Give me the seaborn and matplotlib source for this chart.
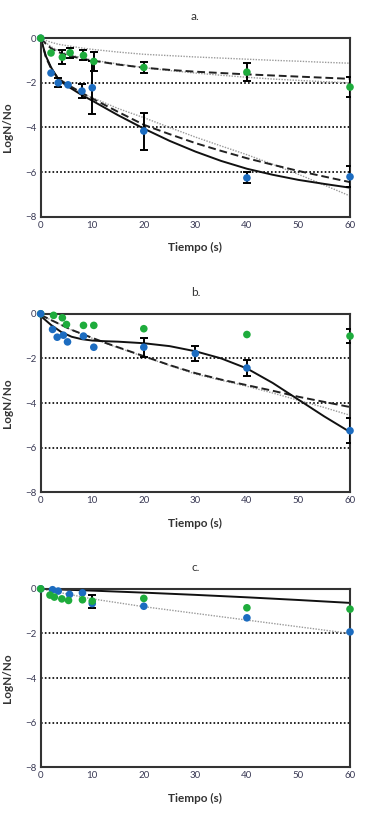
import numpy as np
import pandas as pd
import seaborn as sns
import matplotlib
matplotlib.use('Agg')
import matplotlib.pyplot as plt

# ---- panel a ----
a_blue_t = [0, 2, 3.4, 5.3, 8, 10, 20, 40, 60]
a_blue_y = [0, -1.56, -2.0, -2.09, -2.37, -2.22, -4.16, -6.26, -6.21]
a_blue_err = [0, 0, 0.2, 0, 0.33, 1.18, 0.83, 0.25, 0.48]
a_green_t = [0, 2, 4.2, 5.7, 8.3, 10.3, 20, 40, 60]
a_green_y = [0, -0.66, -0.85, -0.65, -0.77, -1.04, -1.31, -1.52, -2.19]
a_green_err = [0, 0, 0.3, 0.23, 0.22, 0.42, 0.26, 0.41, 0.45]

a_fit_t = [0, 1, 2, 3.4, 5, 8, 10, 15, 20, 25, 30, 35, 40, 45, 50, 55, 60]
a_blue_solid = [0, -0.8, -1.3, -1.85, -2.12, -2.55, -2.8, -3.45, -4.05, -4.6, -5.08, -5.5, -5.85, -6.12, -6.35, -6.53, -6.7]
a_blue_dash = [0, -0.85, -1.35, -1.8, -2.05, -2.45, -2.7, -3.3, -3.88, -4.3, -4.7, -5.05, -5.38, -5.67, -5.95, -6.2, -6.45]
a_blue_dot = [0, -0.8, -1.3, -1.8, -2.08, -2.48, -2.66, -3.15, -3.56, -4.0, -4.43, -4.83, -5.22, -5.65, -6.1, -6.58, -7.07]
a_green_dash = [0, -0.25, -0.45, -0.62, -0.75, -0.92, -1.0, -1.18, -1.32, -1.42, -1.5, -1.56, -1.62, -1.67, -1.72, -1.77, -1.82]
a_green_dot = [0, -0.2, -0.38, -0.55, -0.7, -0.88, -0.98, -1.15, -1.32, -1.45, -1.56, -1.66, -1.75, -1.83, -1.89, -1.95, -2.0]
a_green_dot2 = [0, -0.1, -0.18, -0.27, -0.33, -0.44, -0.5, -0.62, -0.72, -0.78, -0.84, -0.89, -0.94, -0.99, -1.03, -1.08, -1.12]

# ---- panel b ----
b_blue_t = [0, 2.3, 3.2, 4.4, 5.2, 8.3, 10.3, 20, 30, 40, 60]
b_blue_y = [0, -0.7, -1.05, -0.96, -1.26, -1.0, -1.5, -1.5, -1.78, -2.43, -5.24]
b_blue_err = [0, 0, 0, 0, 0, 0, 0, 0.42, 0.34, 0.34, 0.56]
b_green_t = [0, 2.5, 4.2, 5.0, 8.3, 10.3, 20, 40, 60]
b_green_y = [0, -0.07, -0.18, -0.48, -0.52, -0.52, -0.67, -0.93, -1.0]
b_green_err = [0, 0, 0, 0, 0, 0, 0, 0, 0.33]

b_fit_t = [0, 2, 4, 6, 8, 10, 12.5, 15, 20, 25, 30, 35, 40, 45, 50, 55, 60]
b_solid = [-0.1, -0.5, -0.82, -1.03, -1.14, -1.2, -1.23, -1.25, -1.32, -1.45, -1.68, -2.0, -2.45, -3.1, -3.85, -4.6, -5.3]
b_dash = [-0.05, -0.28, -0.5, -0.72, -0.9, -1.08, -1.3, -1.5, -1.9, -2.3, -2.66, -2.95, -3.2, -3.45, -3.72, -3.95, -4.18]
b_dot = [-0.05, -0.28, -0.5, -0.73, -0.92, -1.1, -1.32, -1.52, -1.92, -2.32, -2.7, -2.98, -3.25, -3.55, -3.88, -4.2, -4.55]

# ---- panel c ----
c_blue_t = [0, 2.3, 3.4, 5.6, 8.1, 10, 20, 40, 60]
c_blue_y = [0, -0.04, -0.1, -0.25, -0.18, -0.66, -0.78, -1.3, -1.93]
c_green_t = [0, 1.8, 2.65, 4.1, 5.4, 8.1, 10, 20, 40, 60]
c_green_y = [0, -0.28, -0.37, -0.45, -0.52, -0.49, -0.55, -0.43, -0.85, -0.91]
c_green_err = [0, 0, 0, 0, 0, 0, 0.29, 0, 0, 0]

c_fit_t = [0, 10, 20, 30, 40, 50, 60]
c_solid = [0, -0.08, -0.17, -0.27, -0.38, -0.5, -0.63]
c_dot = [0, -0.45, -0.8, -1.1, -1.4, -1.7, -2.0]

x_ticks = [0, 10, 20, 30, 40, 50, 60]
y_ticks = [0, -2, -4, -6, -8]
panel_titles = ['a.', 'b.', 'c.']

green = '#1eac3c'
blue = '#1c6cc0'
txt = '#3a3a55'

sns.set_style('white')
plt.rcParams['font.family'] = ['Lato', 'DejaVu Sans']

fig = plt.figure(figsize=(3.67, 8.15), dpi=100)
left, width, height = 0.1109, 0.8428, 0.219
bottoms = [0.7341, 0.3960, 0.0585]
axes = [fig.add_axes([left, b, width, height]) for b in bottoms]


def draw_points(ax, t, y, err, color):
    d = pd.DataFrame({'t': t, 'y': y, 'e': err})
    e = d[d['e'] > 0]
    if len(e):
        ax.errorbar(e['t'], e['y'], yerr=e['e'], fmt='none', ecolor='black',
                    elinewidth=1.4, capsize=3, capthick=1.4, zorder=3)
    sns.scatterplot(data=d, x='t', y='y', color=color, s=30, edgecolor='none',
                    ax=ax, zorder=4, clip_on=False)


def line(ax, t, y, style):
    if style == 'solid':
        sns.lineplot(x=t, y=y, ax=ax, color='#111111', lw=1.4, zorder=2)
    elif style == 'dash':
        sns.lineplot(x=t, y=y, ax=ax, color='#222222', lw=1.4, zorder=2,
                     linestyle=(0, (4, 2)))
    else:
        sns.lineplot(x=t, y=y, ax=ax, color='#9a9a9a', lw=1.0, zorder=2,
                     linestyle=(0, (1, 1)))


# panel a
ax = axes[0]
line(ax, a_fit_t, a_green_dot2, 'dot')
line(ax, a_fit_t, a_green_dot, 'dot')
line(ax, a_fit_t, a_green_dash, 'dash')
line(ax, a_fit_t, a_blue_dot, 'dot')
line(ax, a_fit_t, a_blue_dash, 'dash')
line(ax, a_fit_t, a_blue_solid, 'solid')
draw_points(ax, a_blue_t, a_blue_y, a_blue_err, blue)
draw_points(ax, a_green_t, a_green_y, a_green_err, green)

# panel b
ax = axes[1]
line(ax, b_fit_t, b_dot, 'dot')
line(ax, b_fit_t, b_dash, 'dash')
line(ax, b_fit_t, b_solid, 'solid')
draw_points(ax, b_green_t, b_green_y, b_green_err, green)
draw_points(ax, b_blue_t, b_blue_y, b_blue_err, blue)

# panel c
ax = axes[2]
line(ax, c_fit_t, c_dot, 'dot')
line(ax, c_fit_t, c_solid, 'solid')
draw_points(ax, c_blue_t, c_blue_y, [0] * len(c_blue_t), blue)
draw_points(ax, c_green_t, c_green_y, c_green_err, green)

for ax, title in zip(axes, panel_titles):
    ax.set_xlim(0, 60)
    ax.set_ylim(-8, 0)
    ax.set_xticks(x_ticks)
    ax.set_yticks(y_ticks)
    ax.grid(axis='y', color='black', linestyle=(0, (1, 1.3)), lw=1.2)
    ax.grid(axis='x', visible=False)
    ax.set_axisbelow(True)
    for s in ax.spines.values():
        s.set_color('#333333')
        s.set_linewidth(1.5)
    ax.tick_params(length=0, pad=3, labelsize=7, labelcolor=txt)
    ax.set_xlabel('Tiempo (s)', fontsize=8.5, color='#333333', fontweight='bold', labelpad=9)
    ax.set_ylabel('LogN/No', fontsize=8.5, color='#333333', fontweight='bold', labelpad=9)
    ax.set_title(title, fontsize=8.5, color='#333333', pad=13)

fig.savefig('out.png', dpi=100)
